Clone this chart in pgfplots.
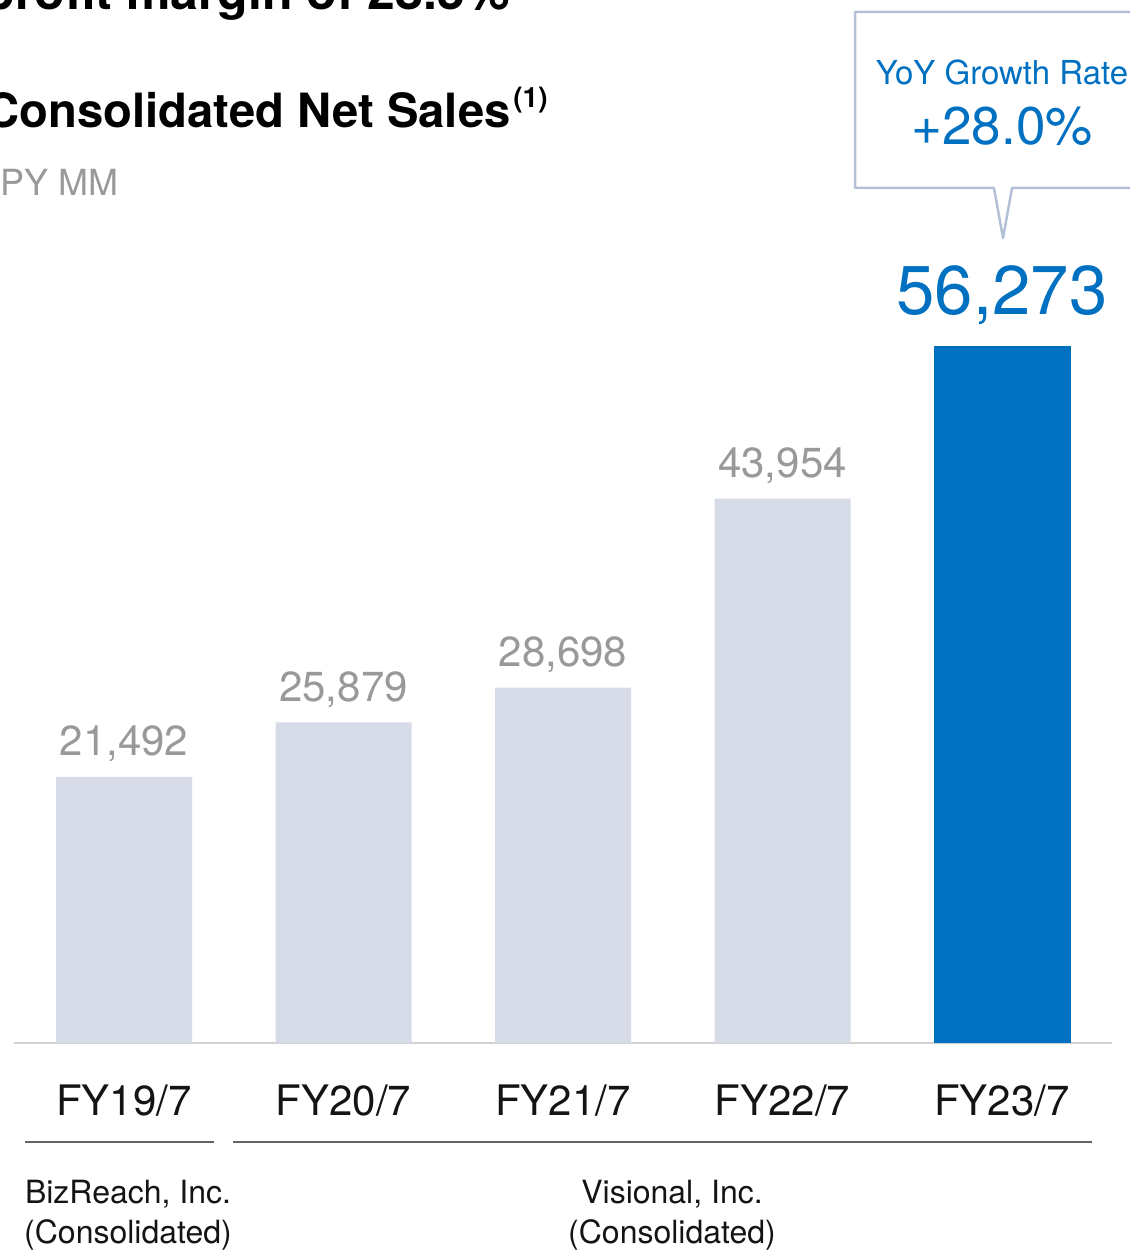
\documentclass[border=0pt]{standalone}
\usepackage{fontspec}
\setmainfont{TeX Gyre Heros}
\usepackage{pgfplots}
\usepackage{pgfplotstable}
\pgfplotsset{compat=1.18}
\definecolor{lightbar}{RGB}{215,219,232}
\definecolor{bluebar}{RGB}{0,112,192}
\definecolor{valgray}{RGB}{153,153,153}
\definecolor{axisgray}{RGB}{210,210,210}
\definecolor{linegray}{RGB}{100,100,100}
\definecolor{callout}{RGB}{180,192,216}
\definecolor{txt}{RGB}{20,20,20}

\pgfplotstableread{
x y lab
0 21492 21,492
1 25879 25,879
2 28698 28,698
3 43954 43,954
}\greydata
\pgfplotstableread{
x y lab
4 56273 56,273
}\bluedata

\newcommand{\fs}[1]{\fontsize{#1}{#1}\selectfont}

\begin{document}
\begin{tikzpicture}[x=0.5pt,y=-0.5pt]
\useasboundingbox (0,0) rectangle (1130,1251);
\clip (0,0) rectangle (1130,1251);

\begin{axis}[
  at={(7.125pt,-521.5pt)}, anchor=south west,
  scale only axis, width=548.75pt, height=348.5pt,
  xmin=-0.5, xmax=4.5, ymin=0, ymax=56273,
  hide y axis,
  axis x line*=bottom,
  x axis line style={draw=axisgray, line width=1.25pt, -},
  xtick={0,1,2,3,4},
  xticklabels={FY19/7,FY20/7,FY21/7,FY22/7,FY23/7},
  major tick length=0pt,
  xticklabel style={font=\fs{21}, text=txt, anchor=base, yshift=-36pt, inner sep=0pt},
  clip=false,
  point meta=explicit symbolic,
]
\addplot[ybar, bar width=68pt, bar shift=0pt, fill=lightbar, draw=none,
  nodes near coords,
  every node near coord/.append style={anchor=base, yshift=10.5pt, inner sep=0pt, font=\fs{21}, text=valgray}]
  table[x=x, y=y, meta=lab] {\greydata};
\addplot[ybar, bar width=68.5pt, bar shift=0pt, fill=bluebar, draw=none,
  nodes near coords,
  every node near coord/.append style={anchor=base, yshift=15.5pt, inner sep=0pt, font=\fs{34.5}, text=bluebar}]
  table[x=x, y=y, meta=lab] {\bluedata};
\end{axis}

% headings (cropped at the picture's edges, as in the reference)
\node[anchor=base east, inner sep=0pt, font=\bfseries\fs{25}] at (510,10) {Operating profit margin of 28.5\%};
\node[anchor=base east, inner sep=0pt, font=\bfseries\fs{23.6}] at (511,128) {Consolidated Net Sales};
\node[anchor=base west, inner sep=0pt, font=\bfseries\fs{14}] at (513,108) {(1)};
\node[anchor=base east, inner sep=0pt, font=\fs{18}, text=valgray] at (119,196) {JPY MM};

% callout
\draw[callout, line width=1.25pt, line join=round]
  (1140,188) -- (1012,188) -- (1003,238) -- (994,188) -- (855,188) -- (855,12) -- (1140,12);
\node[anchor=base, inner sep=0pt, font=\fs{16.5}, text=bluebar] at (1002,85) {YoY Growth Rate};
\node[anchor=base, inner sep=0pt, font=\fs{26.5}, text=bluebar] at (1002,145) {+28.0\%};

% group underlines and labels
\draw[linegray, line width=0.75pt] (25,1142) -- (214,1142);
\draw[linegray, line width=0.75pt] (233,1142) -- (1092,1142);
\node[anchor=base, inner sep=0pt, font=\fs{16}, text=txt] at (128,1203) {BizReach, Inc.};
\node[anchor=base, inner sep=0pt, font=\fs{16}, text=txt] at (128,1243) {(Consolidated)};
\node[anchor=base, inner sep=0pt, font=\fs{16}, text=txt] at (672,1203) {Visional, Inc.};
\node[anchor=base, inner sep=0pt, font=\fs{16}, text=txt] at (672,1243) {(Consolidated)};
\end{tikzpicture}
\end{document}
